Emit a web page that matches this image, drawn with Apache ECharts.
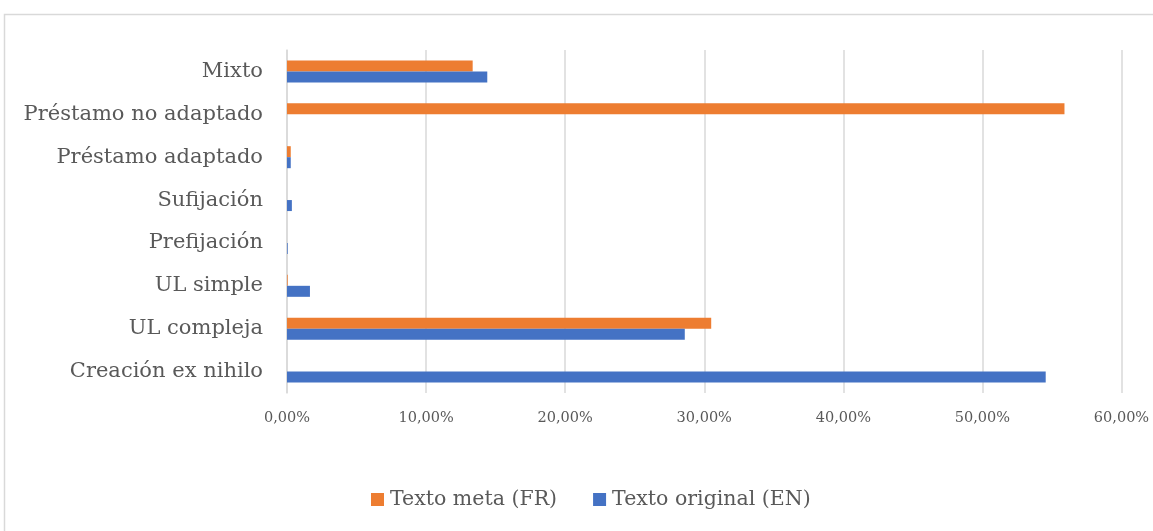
<!DOCTYPE html>
<html>
<head>
<meta charset="utf-8">
<script src="https://cdn.jsdelivr.net/npm/echarts@6/dist/echarts.min.js"></script>
<style>
  html, body { margin: 0; padding: 0; background: #ffffff; }
  #chart { width: 1153px; height: 531px; }
</style>
</head>
<body>
<div id="chart"></div>
<script>
// Categories listed bottom-to-top along the vertical axis
const categories = [
  'Creación ex nihilo',
  'UL compleja',
  'UL simple',
  'Prefijación',
  'Sufijación',
  'Préstamo adaptado',
  'Préstamo no adaptado',
  'Mixto'
];

// Percentages per category (same order as categories)
const textoOriginalEN = [54.55, 28.6, 1.65, 0.05, 0.35, 0.27, 0, 14.4];
const textoMetaFR     = [0, 30.5, 0.05, 0, 0, 0.27, 55.9, 13.35];

const seriesNames = ['Texto meta (FR)', 'Texto original (EN)'];

const axisMax = 60;
const axisStep = 10;

const FONT = 'DejaVu Serif';
const TEXT_COLOR = '#595959';
const GRID_COLOR = '#d9d9d9';

const chart = echarts.init(document.getElementById('chart'), null, { renderer: 'canvas' });

chart.setOption({
  animation: false,
  backgroundColor: '#ffffff',
  graphic: [{
    type: 'rect',
    shape: { x: 4.5, y: 14.5, width: 1200, height: 600 },
    style: { fill: 'none', stroke: GRID_COLOR, lineWidth: 1.5 },
    silent: true
  }],
  grid: {
    left: 287,
    right: 31.5,
    top: 50,
    height: 343,
    containLabel: false
  },
  legend: {
    data: seriesNames,
    left: 366,
    top: 484,
    icon: 'rect',
    itemWidth: 13,
    itemHeight: 13,
    itemGap: 36,
    textStyle: { fontFamily: FONT, fontSize: 20.5, color: TEXT_COLOR, padding: [0, 0, 0, 1] }
  },
  xAxis: {
    type: 'value',
    min: 0,
    max: axisMax,
    interval: axisStep,
    axisLine: { show: false },
    axisTick: { show: false },
    splitLine: { show: true, lineStyle: { color: GRID_COLOR, width: 1.5 } },
    axisLabel: {
      fontFamily: FONT,
      fontSize: 14.5,
      color: TEXT_COLOR,
      margin: 18,
      formatter: v => v.toFixed(2).replace('.', ',') + '%'
    }
  },
  yAxis: {
    type: 'category',
    data: categories,
    axisLine: { show: true, lineStyle: { color: GRID_COLOR, width: 1.5 } },
    axisTick: { show: false },
    axisLabel: {
      fontFamily: FONT,
      fontSize: 21,
      color: TEXT_COLOR,
      margin: 24
    }
  },
  series: [
    {
      name: seriesNames[0],
      type: 'bar',
      data: textoMetaFR,
      barWidth: 11,
      barGap: '0%',
      itemStyle: { color: '#ed7d31' }
    },
    {
      name: seriesNames[1],
      type: 'bar',
      data: textoOriginalEN,
      barWidth: 11,
      barGap: '0%',
      itemStyle: { color: '#4472c4' }
    }
  ]
});
</script>
</body>
</html>
